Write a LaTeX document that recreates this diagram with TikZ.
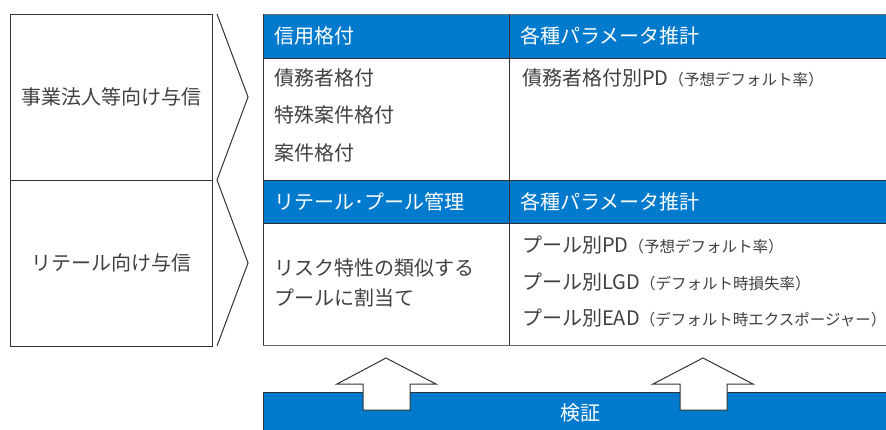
\documentclass[tikz,border=0pt]{standalone}
\usepackage{fontspec}
\setmainfont{Noto Sans CJK JP}
\usetikzlibrary{positioning}
\definecolor{hdblue}{RGB}{0,122,204}
\definecolor{txtgray}{RGB}{64,64,64}
\definecolor{rulegray}{RGB}{51,51,51}
\newcommand{\bigtxt}{\fontsize{20}{30}\selectfont}
\newcommand{\smalltxt}{\fontsize{15.5}{18}\selectfont}
\tikzstyle{lbox} = [rectangle, draw=rulegray, line width=1pt, text=txtgray, font=\bigtxt,
    minimum width=202pt, minimum height=166pt, inner sep=0pt]
\tikzstyle{hd} = [rectangle, fill=hdblue, text=white, font=\bigtxt, align=left,
    minimum height=44pt, inner ysep=0pt]
\tikzstyle{bt} = [anchor=west, text=txtgray, font=\bigtxt, inner sep=0pt]
\tikzstyle{uparrow} = [fill=white, draw=rulegray, line width=1pt, line join=miter]

\begin{document}
\begin{tikzpicture}[x=1pt,y=-1pt]
  \useasboundingbox (0,0) rectangle (886,429);
  % left column
  \node[lbox] (corp)   at (111,97)  {事業法人等向け与信};
  \node[lbox] (retail) at (111,263) {リテール向け与信};
  \draw[rulegray, line width=1pt] (217,14) -- (248,97) -- (217,180) -- (248,263) -- (217,346);

  % headers
  \node[hd, text width=224pt, inner xsep=11pt] (rating) at (386,36) {信用格付};
  \node[hd, text width=355pt, inner xsep=13pt] (param1) at (697.5,36) {各種パラメータ推計};
  \node[hd, text width=224pt, inner xsep=11pt] (pool)   at (386,201.5) {リテール･プール管理};
  \node[hd, text width=355pt, inner xsep=13pt] (param2) at (697.5,201.5) {各種パラメータ推計};

  % table rules
  \draw[rulegray!70, line width=1pt] (263,14) -- (886,14);
  \draw[rulegray, line width=1pt] (263,58) -- (886,58)
    (263,180) -- (886,180) (263,223) -- (886,223)
    (263,14) -- (263,345) (509,14) -- (509,345);
  \draw[rulegray!75, line width=1pt] (263,345) -- (886,345);

  % body text
  \node[bt] (obligor) at (274,78)  {債務者格付};
  \node[bt] (special) at (274,115) {特殊案件格付};
  \node[bt] (facil)   at (274,153) {案件格付};
  \node[bt] (pdcorp)  at (522,78)  {債務者格付別PD{\smalltxt （予想デフォルト率）}};
  \node[bt, align=left] (assign) at (274,283) {リスク特性の類似する\\プールに割当て};
  \node[bt] (pdpool)  at (522,245) {プール別PD{\smalltxt （予想デフォルト率）}};
  \node[bt] (lgdpool) at (522,282) {プール別LGD{\smalltxt （デフォルト時損失率）}};
  \node[bt] (eadpool) at (522,318) {プール別EAD{\smalltxt （デフォルト時エクスポージャー）}};

  % validation bar
  \fill[hdblue] (263,392) rectangle (890,433);
  \draw[rulegray, line width=1pt] (263,433) -- (263,392) -- (890,392);
  \node[text=white, font=\bigtxt, inner sep=0pt] (valid) at (580,413) {検証};

  % up arrows
  \draw[uparrow] (363,410) -- (363,384) -- (337,384) -- (386,358) -- (436,384) -- (410,384) -- (410,410) -- cycle;
  \draw[uparrow] (680,410) -- (680,384) -- (653,384) -- (703,358) -- (753,384) -- (727,384) -- (727,410) -- cycle;
\end{tikzpicture}
\end{document}
